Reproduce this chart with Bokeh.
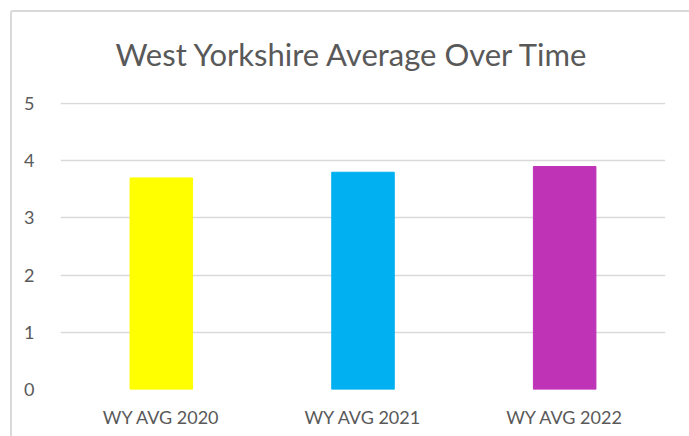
from bokeh.plotting import figure
from bokeh.models import Range1d, FixedTicker, InlineStyleSheet
from bokeh.embed import file_html
from bokeh.resources import INLINE

categories = ["WY AVG 2020", "WY AVG 2021", "WY AVG 2022"]
values = [3.7, 3.8, 3.9]
colors = ["#FFFF00", "#00B0F0", "#BF33B7"]
y_ticks = [0, 1, 2, 3, 4, 5]

TEXT = "#595959"
GRID = "#D9D9D9"
FONT = "Lato"

p = figure(x_range=categories, y_range=Range1d(0, 5.02), width=689, height=436,
           output_backend="svg", toolbar_location=None,
           min_border_left=60, min_border_right=24, min_border_top=102, min_border_bottom=47)

p.vbar(x=categories, top=values, width=0.31, color=colors)

p.title.text = "West Yorkshire Average Over Time"
p.title.align = "left"
p.title.offset = 55
p.title.standoff = 59
p.title.text_font = FONT
p.title.text_font_size = "31px"
p.title.text_font_style = "normal"
p.title.text_color = TEXT

p.outline_line_color = None
p.xgrid.grid_line_color = None
p.ygrid.grid_line_color = GRID
p.ygrid.grid_line_width = 1.5
p.yaxis.ticker = FixedTicker(ticks=y_ticks)

for ax in (p.xaxis, p.yaxis):
    ax.axis_line_color = None
    ax.major_tick_line_color = None
    ax.minor_tick_line_color = None
    ax.major_label_text_font = FONT
    ax.major_label_text_color = TEXT
    ax.major_label_text_font_size = "18px"
p.yaxis.major_label_standoff = 20
p.xaxis.major_label_standoff = 10

border_css = InlineStyleSheet(css="""
:host { position: relative; }
:host::after {
  content: "";
  position: absolute;
  left: 10px; top: 10px; right: 0; bottom: 0;
  border-left: 2px solid #D9D9D9;
  border-top: 2px solid #D9D9D9;
  border-top-left-radius: 3px;
  pointer-events: none;
  z-index: 10;
}
""")
p.stylesheets = [border_css]

open("out.html", "w").write(file_html(p, INLINE))
